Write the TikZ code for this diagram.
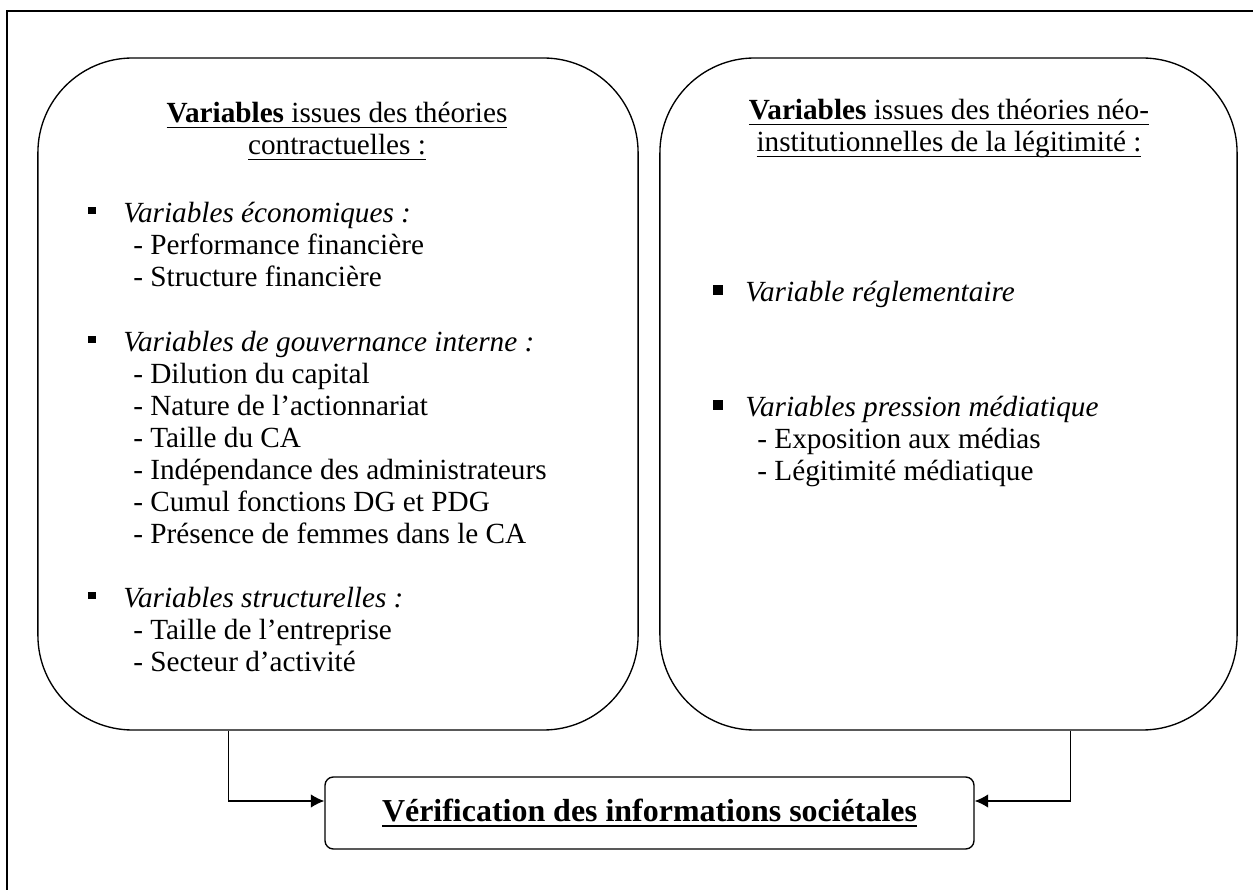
\documentclass[tikz,border=0pt]{standalone}
\usepackage{fontspec}
\setmainfont{Liberation Serif}[ItalicFont={Liberation Serif Italic},
  BoldFont={Liberation Serif Bold}]
\usetikzlibrary{arrows.meta,calc}
\newcommand{\ulin}[2][0.6pt]{\setbox0\hbox{#2}\rlap{\rule[-2.2pt]{\wd0}{#1}}\box0}
\newcommand{\sqb}{\rule[4pt]{3.4pt}{3.3pt}}
\newcommand{\sqr}{\rule[3.3pt]{4.3pt}{4.3pt}}
\newcommand{\blk}[2][l]{\begin{tabular}[t]{@{}#1@{}}#2\end{tabular}}
\tikzset{
  >={Latex[length=6pt,width=6pt]},
  bigbox/.style ={draw,line width=0.6pt,rounded corners=1.48cm,
                  minimum height=10.5cm,inner sep=0pt},
  resbox/.style ={draw,line width=0.6pt,rounded corners=0.13cm,
                  minimum width=10.14cm,minimum height=1.125cm,
                  font=\fontsize{14.2pt}{17pt}\selectfont\bfseries},
  ttl/.style    ={anchor=base,inner sep=0pt},
  txt/.style    ={anchor=base west,inner sep=0pt},
  flow/.style   ={->,line width=0.6pt},
}
\begin{document}
\begin{tikzpicture}[x=0.01563cm,y=-0.01563cm,font=\fontsize{13pt}{14.2pt}\selectfont]
\useasboundingbox (0,0) rectangle (1253,890);
% frame
\draw[line width=0.8pt] (7,890) -- (7,11) -- (1253,11);
% two groups of variables
\node[bigbox,minimum width=9.378cm] (lbox) at (338,394) {};
\node[bigbox,minimum width=9.018cm] (rbox) at (948.5,394) {};
% left box
\node[ttl] (ltitle) at (337,123) {\blk[c]{\ulin{\textbf{Variables} issues des théories}\\ \ulin{contractuelles :}}};
\node[txt] (eco) at (123,223) {\blk{\llap{\sqb\hspace{12.4pt}}\textit{Variables économiques :}\\
  \hspace*{4.4pt}- Performance financière\\
  \hspace*{4.4pt}- Structure financière}};
\node[txt] (gouv) at (123,352) {\blk{\llap{\sqb\hspace{12.4pt}}\textit{Variables de gouvernance interne :}\\
  \hspace*{4.4pt}- Dilution du capital\\
  \hspace*{4.4pt}- Nature de l’actionnariat\\
  \hspace*{4.4pt}- Taille du CA\\
  \hspace*{4.4pt}- Indépendance des administrateurs\\
  \hspace*{4.4pt}- Cumul fonctions DG et PDG\\
  \hspace*{4.4pt}- Présence de femmes dans le CA}};
\node[txt] (struct) at (123,608) {\blk{\llap{\sqb\hspace{12.4pt}}\textit{Variables structurelles :}\\
  \hspace*{4.4pt}- Taille de l’entreprise\\
  \hspace*{4.4pt}- Secteur d’activité}};
% right box
\node[ttl] (rtitle) at (949,120) {\blk[c]{\ulin{\textbf{Variables} issues des théories néo-}\\ \ulin{institutionnelles de la légitimité :}}};
\node[txt] (regl) at (745,302) {\llap{\sqr\hspace{10.2pt}}\textit{Variable réglementaire}};
\node[txt] (media) at (745,417) {\blk{\llap{\sqr\hspace{10.2pt}}\textit{Variables pression médiatique}\\
  \hspace*{5.3pt}- Exposition aux médias\\
  \hspace*{5.3pt}- Légitimité médiatique}};
% result
\node[resbox] (verif) at (649.5,813) {\ulin[0.9pt]{Vérification des informations sociétales}};
\draw[flow] ($(lbox.south west)+(191,0)$) |- ($(verif.west)+(0,-12)$);
\draw[flow] ($(rbox.south east)+(-167,0)$) |- ($(verif.east)+(0,-12)$);
\end{tikzpicture}
\end{document}
